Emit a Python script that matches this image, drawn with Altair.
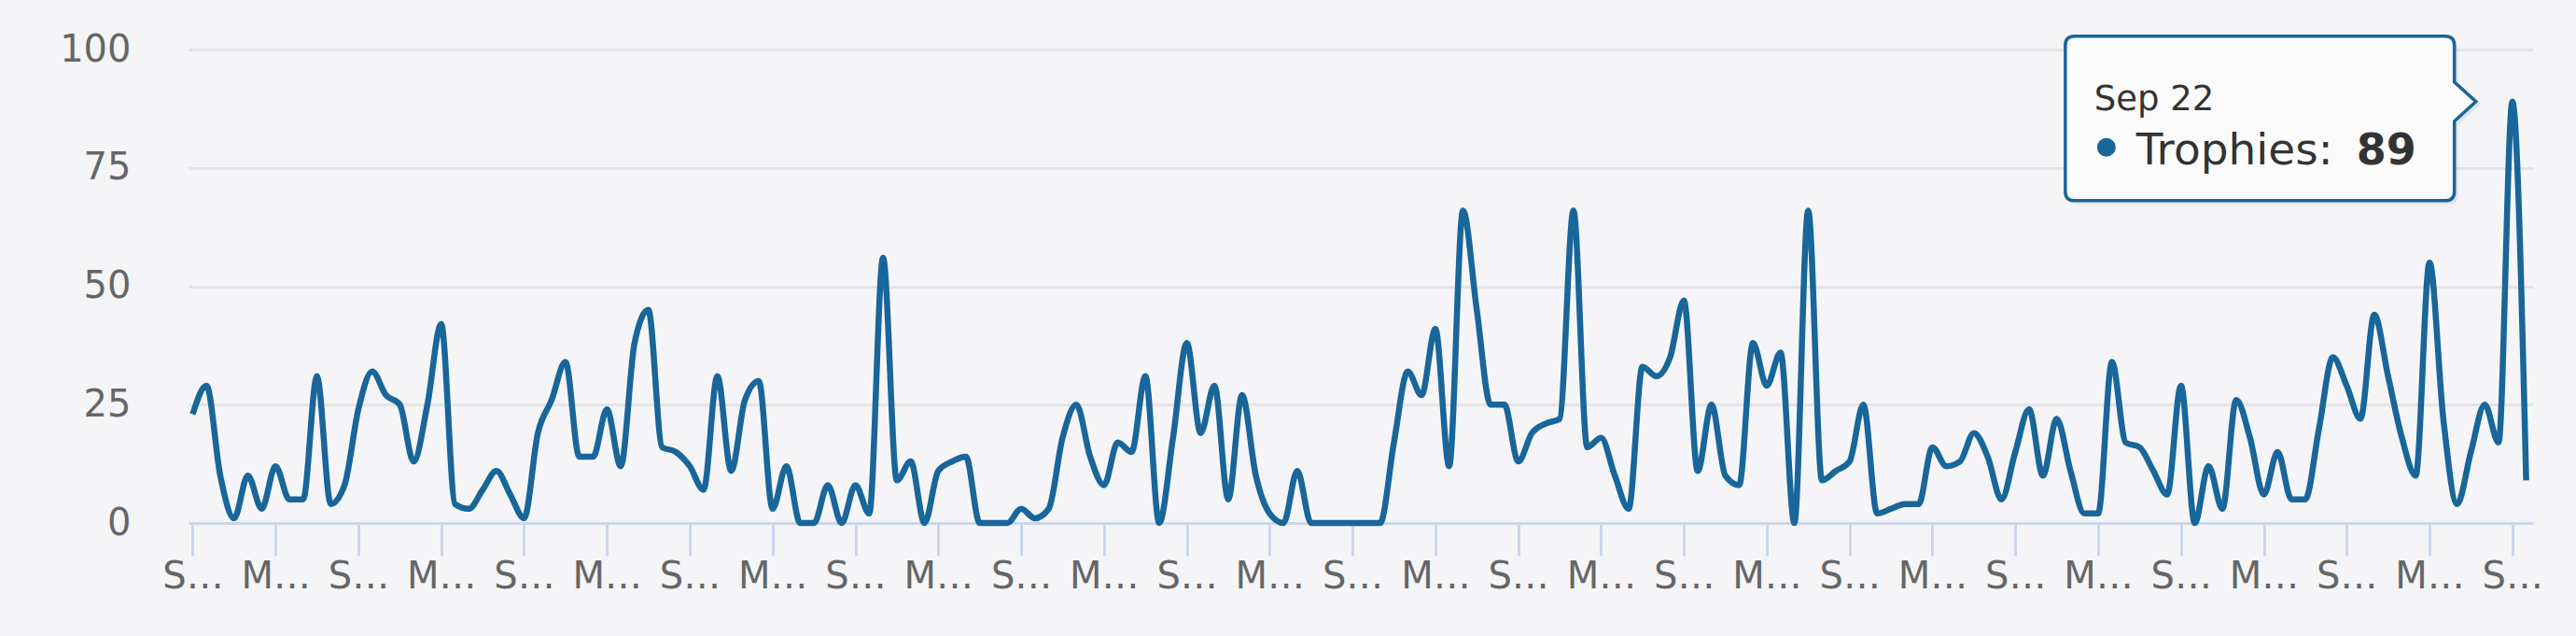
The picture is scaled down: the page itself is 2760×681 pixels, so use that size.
import json
import jinja2
import altair as alt
import pandas as pd

# ---- data ----
trophies = [23, 29, 10, 1, 10, 3, 12, 5, 5, 31,
            4, 8, 24, 32, 27, 25, 13, 25, 42, 4,
            3, 7, 11, 6, 1, 19, 26, 34, 14, 14,
            24, 12, 38, 45, 16, 15, 12, 7, 31, 11,
            26, 30, 3, 12, 0, 0, 8, 0, 8, 2,
            56, 9, 13, 0, 11, 13, 14, 0, 0, 0,
            3, 1, 3, 18, 25, 14, 8, 17, 15, 31,
            0, 18, 38, 19, 29, 5, 27, 10, 2, 0,
            11, 0, 0, 0, 0, 0, 0, 17, 32, 27,
            41, 12, 66, 45, 25, 25, 13, 19, 21, 22,
            66, 16, 18, 10, 3, 33, 31, 35, 47, 11,
            25, 10, 8, 38, 29, 36, 0, 66, 9, 11,
            13, 25, 2, 3, 4, 4, 16, 12, 13, 19,
            14, 5, 15, 24, 10, 22, 11, 2, 2, 34,
            17, 16, 11, 6, 29, 0, 12, 3, 26, 18,
            6, 15, 5, 5, 20, 35, 29, 22, 44, 31,
            18, 10, 55, 22, 4, 15, 25, 17, 89, 9]

tick_labels = ["S…", "M…", "S…", "M…", "S…", "M…", "S…", "M…", "S…", "M…",
               "S…", "M…", "S…", "M…", "S…", "M…", "S…", "M…", "S…", "M…",
               "S…", "M…", "S…", "M…", "S…", "M…", "S…", "M…", "S…"]
tick_step = 6
y_ticks = [0, 25, 50, 75, 100]

series_name = "Trophies"
highlight_index = 168
highlight_label = "Sep 22"

# ---- styling ----
LINE = "#18669a"
BG = "#f5f5f7"
GRID = "#e4e4e6"
AXIS = "#ccd6eb"
LABEL = "#666666"
TEXT = "#333333"
FONT = "DejaVu Sans"

df = pd.DataFrame({"i": list(range(len(trophies))), "v": trophies})
df_hl = pd.DataFrame({
    "i": [highlight_index],
    "v": [trophies[highlight_index]],
    "label": [highlight_label],
    "name": [series_name + ": "],
    "val": [str(trophies[highlight_index])],
})

tick_values = [k * tick_step for k in range(len(tick_labels))]
label_expr = json.dumps(tick_labels, ensure_ascii=False) + f"[round(datum.value/{tick_step})]"

x_main = alt.X(
    "i:Q",
    scale=alt.Scale(domain=[-0.3, len(trophies) - 0.5], nice=False, zero=False),
    axis=alt.Axis(
        values=tick_values, labelExpr=label_expr, grid=False,
        domain=True, domainColor=AXIS, domainWidth=3,
        ticks=True, tickColor=AXIS, tickWidth=3, tickSize=35,
        labelFontSize=40, labelColor=LABEL, labelFont=FONT,
        labelPadding=2, labelOverlap=False, labelFlush=False, title=None,
    ),
)
y_main = alt.Y(
    "v:Q",
    scale=alt.Scale(domain=[0, 100], nice=False),
    axis=alt.Axis(
        values=y_ticks, grid=True, gridColor=GRID, gridWidth=3,
        domain=False, ticks=False, tickSize=0,
        labelFontSize=40, labelColor=LABEL, labelFont=FONT,
        labelPadding=62, title=None,
    ),
)

line = alt.Chart(df).mark_line(
    interpolate="monotone", color=LINE, strokeWidth=6.5
).encode(x=x_main, y=y_main)

# callout outline (tooltip box with pointer on the right)
CALLOUT = ("M -0.955 -0.318 L 0.85 -0.318 Q 0.895 -0.318 0.895 -0.273 "
           "L 0.895 -0.095 L 1 0 L 0.895 0.095 L 0.895 0.437 "
           "Q 0.895 0.482 0.85 0.482 L -0.955 0.482 Q -1 0.482 -1 0.437 "
           "L -1 -0.273 Q -1 -0.318 -0.955 -0.318 Z")
CALLOUT_SIZE = 440 ** 2
OX = -259

hl = alt.Chart(df_hl)
xy = dict(x=alt.X("i:Q"), y=alt.Y("v:Q"))

shadow = hl.mark_point(
    shape=CALLOUT, size=CALLOUT_SIZE, filled=True, fill="#000000",
    opacity=0.07, strokeWidth=0, xOffset=OX + 4, yOffset=4,
).encode(**xy)

box = hl.mark_point(
    shape=CALLOUT, size=CALLOUT_SIZE, filled=True, fill="#fbfbfb",
    stroke=LINE, strokeWidth=3.5, opacity=1, xOffset=OX,
).encode(**xy)

header = hl.mark_text(
    align="left", baseline="alphabetic", dx=-448, dy=9,
    fontSize=37, font=FONT, color=TEXT,
).encode(text="label:N", **xy)

bullet = hl.mark_point(
    shape="circle", size=400, filled=True, color=LINE, opacity=1,
    xOffset=-435, yOffset=49,
).encode(**xy)

name_txt = hl.mark_text(
    align="left", baseline="alphabetic", dx=-403, dy=67,
    fontSize=47, font=FONT, color=TEXT,
).encode(text="name:N", **xy)

val_txt = hl.mark_text(
    align="right", baseline="alphabetic", dx=-103, dy=67,
    fontSize=46, font=FONT, fontWeight="bold", color=TEXT,
).encode(text="val:N", **xy)

chart = alt.layer(line, shadow, box, header, bullet, name_txt, val_txt).properties(
    width=2512, height=507,
    autosize=alt.AutoSizeParams(type="none"),
    padding={"left": 194, "top": 45, "right": 30, "bottom": 100},
    background=BG,
).configure_view(strokeWidth=0)

PAGE = jinja2.Template("""<!DOCTYPE html>
<html>
<head>
  <style>
    html, body { background: """ + BG + """; }
    #{{ output_div }}.vega-embed { width: 100%; display: flex; }
  </style>
  <script type="text/javascript" src="{{ base_url }}/vega@{{ vega_version }}"></script>
  <script type="text/javascript" src="{{ base_url }}/vega-lite@{{ vegalite_version }}"></script>
  <script type="text/javascript" src="{{ base_url }}/vega-embed@{{ vegaembed_version }}"></script>
</head>
<body>
  <div id="{{ output_div }}"></div>
  <script>
    (function(vegaEmbed) {
      var spec = {{ spec }};
      var embedOpt = {{ embed_options }};
      function showError(el, error){
          el.innerHTML = ('<div style="color:red;"><p>JavaScript Error: ' + error.message + '</p></div>');
          throw error;
      }
      const el = document.getElementById('{{ output_div }}');
      vegaEmbed("#{{ output_div }}", spec, embedOpt).catch(error => showError(el, error));
    })(vegaEmbed);
  </script>
</body>
</html>
""")

try:
    chart.save("out.html", embed_options={"renderer": "svg", "actions": False}, template=PAGE)
except Exception:
    chart.save("out.html", embed_options={"renderer": "svg", "actions": False})
